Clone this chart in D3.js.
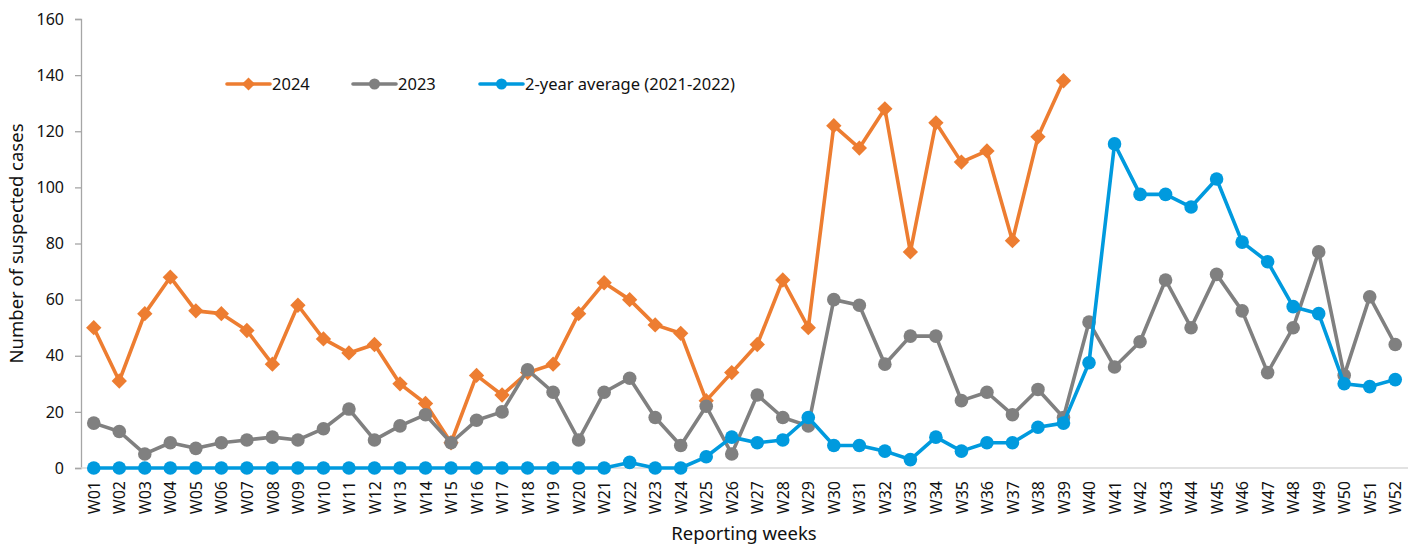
<!DOCTYPE html>
<html>
<head>
<meta charset="utf-8">
<script src="https://cdn.jsdelivr.net/npm/d3@7"></script>
<style>
  html, body { margin: 0; padding: 0; background: #fff; }
  svg { display: block; font-family: "Noto Sans", sans-serif; }
</style>
</head>
<body>
<div id="chart"></div>
<script>
/* weekly suspected cases: 2024 vs 2023 vs 2021-2022 average */

var weeks = d3.range(1, 53).map(function (d) { return 'W' + (d < 10 ? '0' + d : d); });

var cases2024 = [50, 31, 55, 68, 56, 55, 49, 37, 58, 46, 41, 44, 30, 23, 9, 33,
  26, 34, 37, 55, 66, 60, 51, 48, 24, 34, 44, 67, 50, 122, 114, 128, 77, 123,
  109, 113, 81, 118, 138];

var cases2023 = [16, 13, 5, 9, 7, 9, 10, 11, 10, 14, 21, 10, 15, 19, 9, 17,
  20, 35, 27, 10, 27, 32, 18, 8, 22, 5, 26, 18, 15, 60, 58, 37, 47, 47,
  24, 27, 19, 28, 18, 52, 36, 45, 67, 50, 69, 56, 34, 50, 77, 33, 61, 44];

var avg2122 = [0, 0, 0, 0, 0, 0, 0, 0, 0, 0, 0, 0, 0, 0, 0, 0,
  0, 0, 0, 0, 0, 2, 0, 0, 4, 11, 9, 10, 18, 8, 8, 6, 3, 11,
  6, 9, 9, 14.5, 16, 37.5, 115.5, 97.5, 97.5, 93, 103, 80.5, 73.5, 57.5, 55, 30, 29, 31.5];

var yTicks = [0, 20, 40, 60, 80, 100, 120, 140, 160];

var series = [
  { name: '2024', values: cases2024, color: '#ED7D31', marker: 'diamond' },
  { name: '2023', values: cases2023, color: '#808080', marker: 'circle' },
  { name: '2-year average (2021-2022)', values: avg2122, color: '#009ADE', marker: 'circle' }
];

var W = 1417, H = 547;
var m = { left: 81, right: 9, top: 19, bottom: 79 };

var svg = d3.select('#chart').append('svg')
  .attr('width', W).attr('height', H);

var x = d3.scalePoint().domain(weeks)
  .range([m.left, W - m.right]).padding(0.5);

var y = d3.scaleLinear().domain([0, 160])
  .range([H - m.bottom, m.top]);

/* y axis */
var yAxis = svg.append('g')
  .attr('transform', 'translate(' + m.left + ',0)')
  .call(d3.axisLeft(y).tickValues(yTicks).tickSize(6).tickPadding(11));
yAxis.select('.domain').attr('stroke', '#a6a6a6').attr('stroke-width', 1.3);
yAxis.selectAll('.tick line').attr('stroke', '#a6a6a6').attr('stroke-width', 1.3);
yAxis.selectAll('.tick text')
  .attr('font-family', '"Noto Sans", sans-serif')
  .attr('font-size', 16).attr('fill', '#111');

/* x axis */
var xAxis = svg.append('g')
  .attr('transform', 'translate(0,' + y(0) + ')')
  .call(d3.axisBottom(x).tickSize(0).tickPadding(0));
xAxis.select('.domain')
  .attr('d', 'M' + m.left + ',0H' + (W - m.right))
  .attr('stroke', '#d9d9d9').attr('stroke-width', 1.5);
xAxis.selectAll('.tick text')
  .attr('font-family', '"Noto Sans", sans-serif')
  .attr('font-size', 16).attr('fill', '#111')
  .attr('text-anchor', 'end')
  .attr('dy', '0.35em')
  .attr('transform', 'translate(0,13) rotate(-90)')
  .attr('x', 0).attr('y', 0);

/* axis titles */
svg.append('text')
  .attr('transform', 'translate(23,' + ((m.top + y(0)) / 2) + ') rotate(-90)')
  .attr('text-anchor', 'middle')
  .attr('font-size', 18.5).attr('fill', '#111')
  .text('Number of suspected cases');

svg.append('text')
  .attr('x', 744).attr('y', 540)
  .attr('text-anchor', 'middle')
  .attr('font-size', 18.5).attr('fill', '#111')
  .text('Reporting weeks');

var line = d3.line()
  .x(function (d, i) { return x(weeks[i]); })
  .y(function (d) { return y(d); });

var diamond = d3.symbol().type(d3.symbolDiamond2).size(150);

function drawMarker(g, cx, cy, s) {
  if (s.marker === 'diamond') {
    g.append('path')
      .attr('d', diamond())
      .attr('transform', 'translate(' + cx + ',' + cy + ')')
      .attr('fill', s.color);
  } else {
    g.append('circle')
      .attr('cx', cx).attr('cy', cy).attr('r', 6.8)
      .attr('fill', s.color);
  }
}

series.forEach(function (s) {
  var g = svg.append('g');
  g.append('path')
    .datum(s.values)
    .attr('d', line)
    .attr('fill', 'none')
    .attr('stroke', s.color)
    .attr('stroke-width', 3.6)
    .attr('stroke-linejoin', 'round');
  s.values.forEach(function (v, i) {
    drawMarker(g, x(weeks[i]), y(v), s);
  });
});

/* legend */
var legX = [227, 353, 480];
series.forEach(function (s, i) {
  var g = svg.append('g');
  var ly = 84;
  g.append('line')
    .attr('x1', legX[i]).attr('x2', legX[i] + 43)
    .attr('y1', ly).attr('y2', ly)
    .attr('stroke', s.color).attr('stroke-width', 3.6)
    .attr('stroke-linecap', 'round');
  if (s.marker === 'diamond') {
    g.append('path').attr('d', d3.symbol().type(d3.symbolDiamond2).size(110)())
      .attr('transform', 'translate(' + (legX[i] + 21.5) + ',' + ly + ')')
      .attr('fill', s.color);
  } else {
    g.append('circle').attr('cx', legX[i] + 21.5).attr('cy', ly).attr('r', 5.5)
      .attr('fill', s.color);
  }
  g.append('text')
    .attr('x', legX[i] + 45).attr('y', ly).attr('dy', '0.35em')
    .attr('font-size', 16.5).attr('fill', '#111')
    .text(s.name);
});
</script>
</body>
</html>
